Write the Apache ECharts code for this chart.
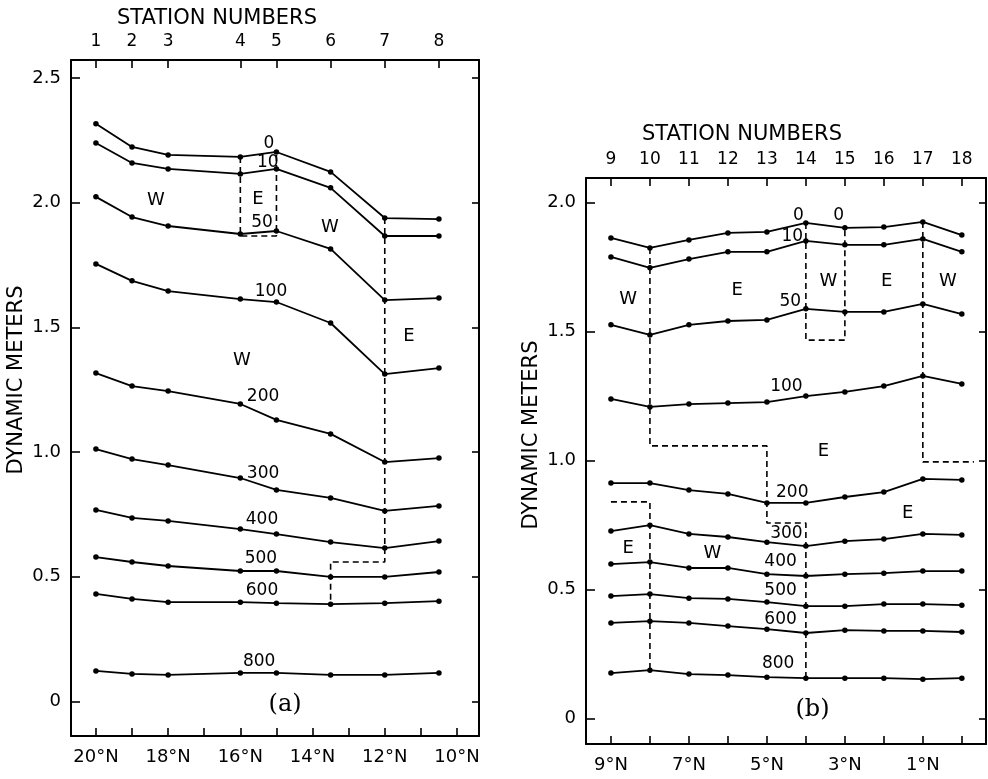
<!DOCTYPE html>
<html><head><meta charset="utf-8">
<script src="https://cdn.jsdelivr.net/npm/echarts@6/dist/echarts.min.js"></script>
<style>html,body{margin:0;padding:0;background:#fff}#c{width:988px;height:779px}</style>
</head><body><div id="c"></div>
<script>
// ---------- Panel (a) ----------
const stationsA = [1, 2, 3, 4, 5, 6, 7, 8];
const latA = [20, 19, 18, 16, 15, 13.5, 12, 10.5];
const a0   = [2.317, 2.224, 2.192, 2.184, 2.204, 2.124, 1.939, 1.935];
const a10  = [2.240, 2.160, 2.136, 2.116, 2.136, 2.060, 1.867, 1.867];
const a50  = [2.024, 1.943, 1.907, 1.875, 1.887, 1.815, 1.610, 1.618];
const a100 = [1.755, 1.687, 1.646, 1.614, 1.602, 1.518, 1.313, 1.337];
const a200 = [1.317, 1.265, 1.245, 1.193, 1.129, 1.073, 0.960, 0.976];
const a300 = [1.012, 0.972, 0.948, 0.896, 0.848, 0.816, 0.764, 0.784];
const a400 = [0.768, 0.736, 0.724, 0.691, 0.671, 0.639, 0.615, 0.643];
const a500 = [0.579, 0.559, 0.543, 0.523, 0.523, 0.499, 0.499, 0.519];
const a600 = [0.431, 0.411, 0.398, 0.398, 0.394, 0.390, 0.394, 0.402];
const a800 = [0.122, 0.110, 0.106, 0.114, 0.114, 0.106, 0.106, 0.114];
const boundA1 = [[16, 2.184], [16, 1.867], [15, 1.867], [15, 2.204]];
const boundA2 = [[12, 1.939], [12, 0.559], [13.5, 0.559], [13.5, 0.390]];
const depthLabA = [[15.21, 2.236, '0'], [15.24, 2.160, '10'], [15.40, 1.919, '50'], [15.15, 1.642, '100'],
  [15.37, 1.221, '200'], [15.37, 0.912, '300'], [15.40, 0.728, '400'], [15.43, 0.571, '500'],
  [15.40, 0.443, '600'], [15.48, 0.158, '800']];
const regionLabA = [[18.34, 2.012, 'W'], [15.51, 2.016, 'E'], [13.52, 1.903, 'W'], [11.33, 1.466, 'E'], [15.96, 1.370, 'W']];
const panelLabA = [[14.76, -0.015, '(a)']];
const yTicksA = [0, 0.5, 1, 1.5, 2, 2.5];
const latTicksA = [10, 11, 12, 13, 14, 15, 16, 17, 18, 19, 20];
const latLabelsA = [20, 18, 16, 14, 12, 10];

// ---------- Panel (b) ----------
const stationsB = [9, 10, 11, 12, 13, 14, 15, 16, 17, 18];
const latB = [9, 8, 7, 6, 5, 4, 3, 2, 1, 0];
const b0   = [1.863, 1.824, 1.855, 1.882, 1.886, 1.921, 1.902, 1.905, 1.925, 1.874];
const b10  = [1.789, 1.747, 1.781, 1.809, 1.809, 1.851, 1.836, 1.836, 1.859, 1.809];
const b50  = [1.526, 1.487, 1.526, 1.541, 1.545, 1.588, 1.576, 1.576, 1.607, 1.568];
const b100 = [1.239, 1.208, 1.219, 1.223, 1.227, 1.250, 1.266, 1.289, 1.328, 1.297];
const b200 = [0.913, 0.913, 0.886, 0.871, 0.836, 0.836, 0.859, 0.878, 0.929, 0.925];
const b300 = [0.727, 0.750, 0.716, 0.704, 0.684, 0.669, 0.688, 0.696, 0.716, 0.712];
const b400 = [0.599, 0.607, 0.584, 0.584, 0.560, 0.553, 0.560, 0.564, 0.572, 0.572];
const b500 = [0.475, 0.483, 0.467, 0.464, 0.452, 0.436, 0.436, 0.444, 0.444, 0.440];
const b600 = [0.371, 0.378, 0.371, 0.359, 0.347, 0.332, 0.343, 0.340, 0.340, 0.336];
const b800 = [0.177, 0.188, 0.173, 0.169, 0.161, 0.157, 0.157, 0.157, 0.153, 0.157];
const boundB1 = [[4, 1.921], [4, 1.467], [3, 1.467], [3, 1.902]];
const boundB2 = [[8, 1.824], [8, 1.057], [5, 1.057], [5, 0.758], [4, 0.758], [4, 0.157]];
const boundB3 = [[1, 1.925], [1, 0.995], [-0.31, 0.995]];
const boundB4 = [[9, 0.840], [8, 0.840], [8, 0.188]];
const depthLabB = [[4.19, 1.948, '0'], [3.16, 1.948, '0'], [4.35, 1.867, '10'], [4.40, 1.615, '50'],
  [4.50, 1.285, '100'], [4.35, 0.878, '200'], [4.50, 0.719, '300'], [4.65, 0.607, '400'],
  [4.65, 0.495, '500'], [4.65, 0.386, '600'], [4.71, 0.212, '800']];
const regionLabB = [[8.56, 1.626, 'W'], [5.76, 1.661, 'E'], [3.42, 1.696, 'W'], [1.93, 1.696, 'E'], [0.36, 1.696, 'W'],
  [3.55, 1.037, 'E'], [1.39, 0.797, 'E'], [8.56, 0.661, 'E'], [6.40, 0.642, 'W']];
const panelLabB = [[3.83, 0.033, '(b)']];
const yTicksB = [0, 0.5, 1, 1.5, 2];
const latTicksB = [0, 1, 2, 3, 4, 5, 6, 7, 8, 9];
const latLabelsB = [9, 7, 5, 3, 1];

// ---------- build ----------
const SANS = 'DejaVu Sans';
const BLACK = '#000';
function pairs(lat, vals) { return lat.map((x, i) => [x, vals[i]]); }
function stationFor(lats, st) {
  return v => { const i = lats.findIndex(l => Math.abs(l - v) < 1e-6); return i < 0 ? '' : String(st[i]); };
}
const lineAxis = { show: true, onZero: false, lineStyle: { color: BLACK, width: 2 } };
function xBottom(grid, min, max, ticks, labels) {
  return { type: 'value', gridIndex: grid, position: 'bottom', min, max, inverse: true,
    axisLine: lineAxis, splitLine: { show: false },
    axisTick: { show: true, inside: true, length: 8, customValues: ticks, lineStyle: { color: BLACK, width: 1.6 } },
    axisLabel: { show: true, customValues: labels, margin: 12, formatter: v => v + '°N',
      fontFamily: SANS, fontSize: 18, color: BLACK } };
}
function xTop(grid, min, max, lats, st) {
  return { type: 'value', gridIndex: grid, position: 'top', min, max, inverse: true,
    axisLine: lineAxis, splitLine: { show: false },
    axisTick: { show: true, inside: true, length: 8, customValues: lats, lineStyle: { color: BLACK, width: 1.6 } },
    axisLabel: { show: true, customValues: lats, margin: 10, formatter: stationFor(lats, st),
      fontFamily: SANS, fontSize: 17, color: BLACK } };
}
function yLeft(grid, min, max, ticks) {
  return { type: 'value', gridIndex: grid, position: 'left', min, max,
    axisLine: lineAxis, splitLine: { show: false },
    axisTick: { show: true, inside: true, length: 9, customValues: ticks, lineStyle: { color: BLACK, width: 1.6 } },
    axisLabel: { show: true, customValues: ticks, margin: 10, formatter: v => v === 0 ? '0' : v.toFixed(1),
      fontFamily: SANS, fontSize: 18, color: BLACK } };
}
function yRight(grid, min, max, ticks) {
  return { type: 'value', gridIndex: grid, position: 'right', min, max,
    axisLine: lineAxis, splitLine: { show: false },
    axisTick: { show: true, inside: true, length: 7, customValues: ticks, lineStyle: { color: BLACK, width: 1.6 } },
    axisLabel: { show: false } };
}
function curve(xi, yi, lat, vals) {
  return { type: 'line', xAxisIndex: xi, yAxisIndex: yi, data: pairs(lat, vals),
    symbol: 'circle', symbolSize: 5.5, showSymbol: true,
    lineStyle: { color: BLACK, width: 1.8 }, itemStyle: { color: BLACK }, silent: true };
}
function bound(xi, yi, pts) {
  return { type: 'line', xAxisIndex: xi, yAxisIndex: yi, data: pts, symbol: 'none',
    lineStyle: { color: BLACK, width: 1.6, type: [6, 4] }, silent: true };
}
function labels(xi, yi, pts, font, size) {
  return { type: 'scatter', xAxisIndex: xi, yAxisIndex: yi, data: pts, symbolSize: 1,
    itemStyle: { color: 'rgba(0,0,0,0)', opacity: 1 }, silent: true,
    label: { show: true, position: 'inside', formatter: p => p.data[2], opacity: 1,
      fontFamily: font, fontSize: size, color: BLACK } };
}

const series = [];
[a0, a10, a50, a100, a200, a300, a400, a500, a600, a800].forEach(v => series.push(curve(0, 0, latA, v)));
[boundA1, boundA2].forEach(p => series.push(bound(0, 0, p)));
series.push(labels(0, 0, depthLabA, SANS, 17));
series.push(labels(0, 0, regionLabA, SANS, 18));
series.push(labels(0, 0, panelLabA, 'DejaVu Serif', 24));
[b0, b10, b50, b100, b200, b300, b400, b500, b600, b800].forEach(v => series.push(curve(2, 2, latB, v)));
[boundB1, boundB2, boundB3, boundB4].forEach(p => series.push(bound(2, 2, p)));
series.push(labels(2, 2, depthLabB, SANS, 17));
series.push(labels(2, 2, regionLabB, SANS, 18));
series.push(labels(2, 2, panelLabB, 'DejaVu Serif', 24));

function gtext(txt, x, y, rot) {
  return { type: 'text', x, y, rotation: rot || 0, silent: true,
    style: { text: txt, x: 0, y: 0, align: 'center', verticalAlign: 'middle', textAlign: 'center',
      textVerticalAlign: 'middle', font: '21px "DejaVu Sans"', fill: BLACK } };
}

const option = {
  animation: false,
  backgroundColor: '#fff',
  grid: [
    { left: 71, top: 60, width: 408, height: 676 },
    { left: 586, top: 178, width: 400, height: 566 }
  ],
  xAxis: [
    xBottom(0, 9.39, 20.69, latTicksA, latLabelsA),
    xTop(0, 9.39, 20.69, latA, stationsA),
    xBottom(1, -0.62, 9.64, latTicksB, latLabelsB),
    xTop(1, -0.62, 9.64, latB, stationsB)
  ],
  yAxis: [
    yLeft(0, -0.139, 2.573, yTicksA),
    yRight(0, -0.139, 2.573, yTicksA),
    yLeft(1, -0.098, 2.095, yTicksB),
    yRight(1, -0.098, 2.095, yTicksB)
  ],
  graphic: [
    gtext('STATION NUMBERS', 217, 19),
    gtext('STATION NUMBERS', 742, 135),
    gtext('DYNAMIC METERS', 17, 380, Math.PI / 2),
    gtext('DYNAMIC METERS', 532, 435, Math.PI / 2)
  ],
  series
};
const chart = echarts.init(document.getElementById('c'), null, { renderer: 'canvas' });
chart.setOption(option);
</script>
</body></html>
